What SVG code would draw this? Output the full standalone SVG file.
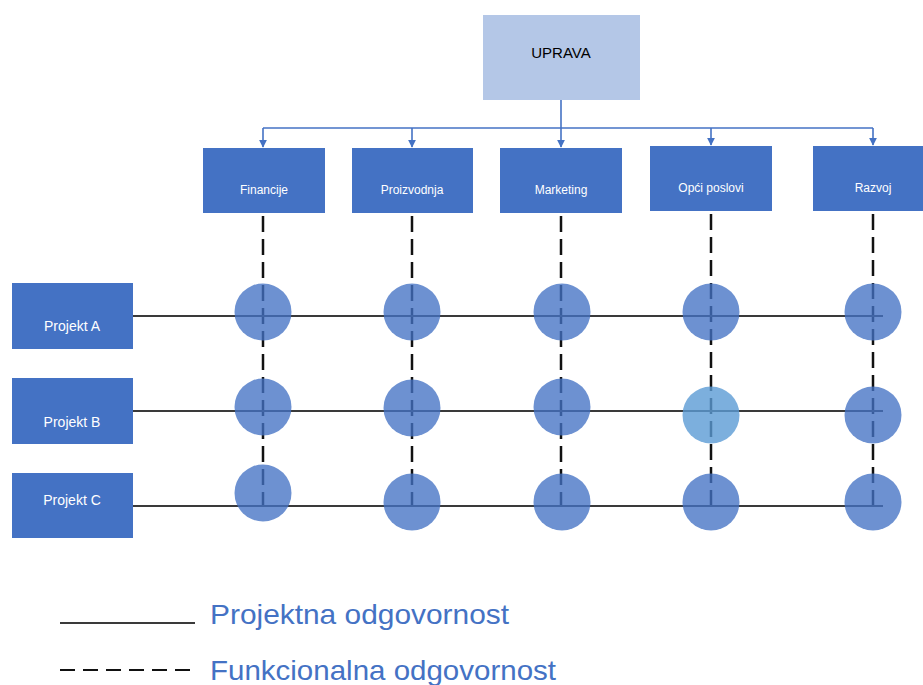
<svg xmlns="http://www.w3.org/2000/svg" width="923" height="685" viewBox="0 0 923 685">
<style>
  .dept { fill: #4472c4; }
  .dtext { fill: #ffffff; font-family: "Liberation Sans", Arial, sans-serif; font-size: 12px; text-anchor: middle; }
  .ptext { fill: #ffffff; font-family: "Liberation Sans", Arial, sans-serif; font-size: 14px; text-anchor: middle; }
  .conn { stroke: #4472c4; stroke-width: 1.6; fill: none; }
  .proj { stroke: #3a3a3a; stroke-width: 2; fill: none; }
  .func { stroke: #111111; stroke-width: 2.5; fill: none; stroke-dasharray: 16 7; }
  .dot { fill: #4472c4; fill-opacity: 0.78; }
  .dot2 { fill: #5b9bd5; fill-opacity: 0.8; }
  .legend { fill: #4472c4; font-family: "Liberation Sans", Arial, sans-serif; font-size: 28px; }
</style>
<defs>
  <marker id="arr" viewBox="0 0 10 10" refX="9" refY="5" markerWidth="5" markerHeight="5" orient="auto">
    <path d="M0,0 L10,5 L0,10 z" fill="#4472c4"/>
  </marker>
</defs>
<rect width="923" height="685" fill="#ffffff"/>

<g id="uprava">
  <rect x="483" y="15" width="157" height="85" fill="#b4c7e7"/>
  <text x="561" y="58" font-family="Liberation Sans, Arial, sans-serif" font-size="15" text-anchor="middle" fill="#000000">UPRAVA</text>
</g>

<g id="connectors">
  <path class="conn" d="M561,100 V128"/>
  <path class="conn" d="M263,128 H873"/>
  <path class="conn" d="M263,128 V147" marker-end="url(#arr)"/>
  <path class="conn" d="M412,128 V147" marker-end="url(#arr)"/>
  <path class="conn" d="M561,128 V147" marker-end="url(#arr)"/>
  <path class="conn" d="M711,128 V145" marker-end="url(#arr)"/>
  <path class="conn" d="M873,128 V145" marker-end="url(#arr)"/>

  <g id="functional-lines">
    <path class="func" d="M263,216 V506"/>
    <path class="func" d="M412,216 V506"/>
    <path class="func" d="M561,216 V506"/>
    <path class="func" d="M711,214 V506"/>
    <path class="func" d="M873,214 V506"/>
  </g>
  <g id="project-lines">
    <path class="proj" d="M133,316 H883"/>
    <path class="proj" d="M133,411 H883"/>
    <path class="proj" d="M133,506 H883"/>
  </g>
</g>

<g id="financije">
  <rect class="dept" x="203" y="148" width="122" height="65"/>
  <text class="dtext" x="264" y="194">Financije</text>
</g>
<g id="proizvodnja">
  <rect class="dept" x="352" y="148" width="121" height="65"/>
  <text class="dtext" x="412" y="194">Proizvodnja</text>
</g>
<g id="marketing">
  <rect class="dept" x="500" y="148" width="122" height="65"/>
  <text class="dtext" x="561" y="194">Marketing</text>
</g>
<g id="opci-poslovi">
  <rect class="dept" x="650" y="146" width="122" height="65"/>
  <text class="dtext" x="711" y="192">Opći poslovi</text>
</g>
<g id="razvoj">
  <rect class="dept" x="813" y="146" width="110" height="65"/>
  <text class="dtext" x="873" y="192">Razvoj</text>
</g>

<g id="projekt-a">
  <rect class="dept" x="12" y="283" width="121" height="66"/>
  <text class="ptext" x="72" y="331">Projekt A</text>
</g>
<g id="projekt-b">
  <rect class="dept" x="12" y="378" width="121" height="66"/>
  <text class="ptext" x="72" y="427">Projekt B</text>
</g>
<g id="projekt-c">
  <rect class="dept" x="12" y="473" width="121" height="65"/>
  <text class="ptext" x="72" y="505">Projekt C</text>
</g>

<g id="intersections">
  <circle class="dot" cx="263" cy="312" r="28.5"/>
  <circle class="dot" cx="412" cy="312" r="28.5"/>
  <circle class="dot" cx="562" cy="312" r="28.5"/>
  <circle class="dot" cx="711" cy="312" r="28.5"/>
  <circle class="dot" cx="873" cy="312" r="28.5"/>

  <circle class="dot" cx="263" cy="407" r="28.5"/>
  <circle class="dot" cx="412" cy="408" r="28.5"/>
  <circle class="dot" cx="562" cy="407" r="28.5"/>
  <circle class="dot2" cx="711" cy="415" r="28.5"/>
  <circle class="dot" cx="873" cy="415" r="28.5"/>

  <circle class="dot" cx="263" cy="493" r="28.5"/>
  <circle class="dot" cx="412" cy="502" r="28.5"/>
  <circle class="dot" cx="562" cy="502" r="28.5"/>
  <circle class="dot" cx="711" cy="502" r="28.5"/>
  <circle class="dot" cx="873" cy="502" r="28.5"/>
</g>

<g id="legend">
  <line x1="60" y1="623" x2="195" y2="623" stroke="#3a3a3a" stroke-width="2"/>
  <text class="legend" x="210" y="624" textLength="299" lengthAdjust="spacingAndGlyphs">Projektna odgovornost</text>
  <line x1="60" y1="670" x2="195" y2="670" stroke="#111111" stroke-width="2" stroke-dasharray="15 8"/>
  <text class="legend" x="210" y="680" textLength="346" lengthAdjust="spacingAndGlyphs">Funkcionalna odgovornost</text>
</g>
</svg>
